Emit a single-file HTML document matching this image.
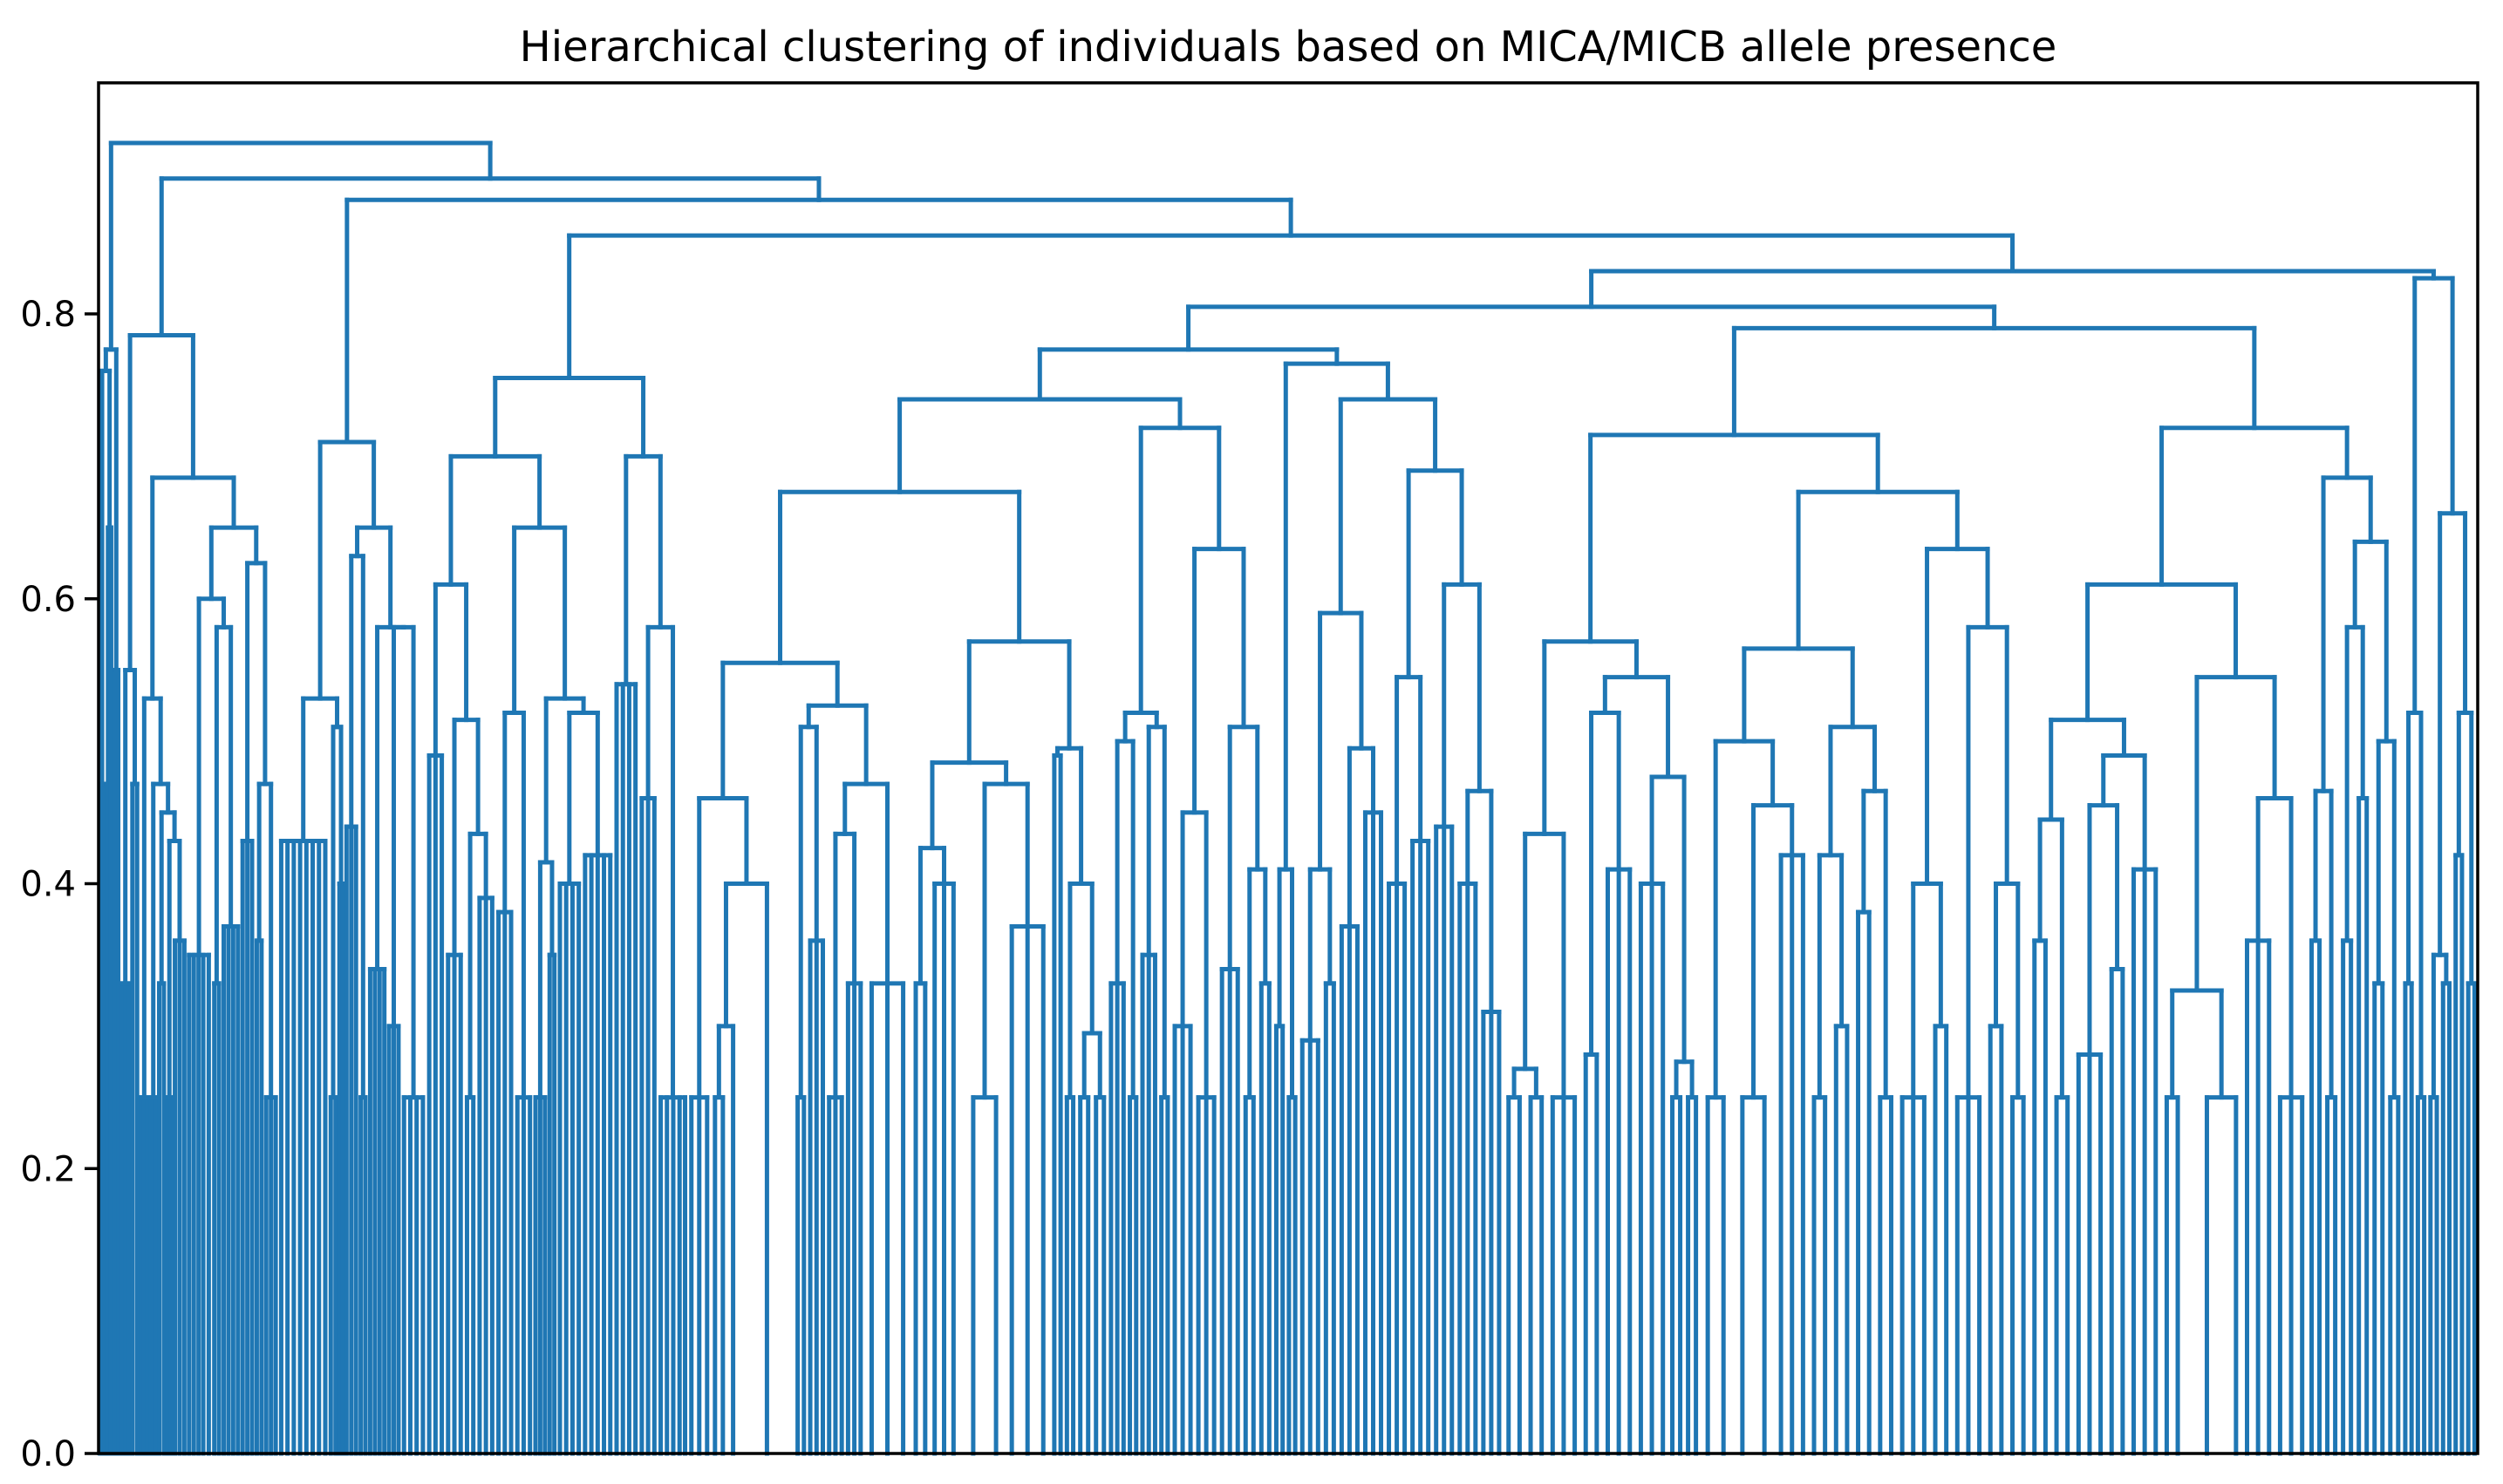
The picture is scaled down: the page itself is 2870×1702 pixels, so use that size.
<!DOCTYPE html>
<html><head><meta charset="utf-8">
<style>
html,body{margin:0;padding:0;background:#fff;}
svg{display:block;}
text{font-family:"DejaVu Sans","Liberation Sans",sans-serif;fill:#000;}
</style></head>
<body>
<svg id="chart" width="2870" height="1702" viewBox="0 0 2870 1702" xmlns="http://www.w3.org/2000/svg">
<rect width="2870" height="1702" fill="#fff"/>
<text x="1477" y="70" font-size="48" text-anchor="middle">Hierarchical clustering of individuals based on MICA/MICB allele presence</text>
<g id="links" fill="none" stroke="#1f77b4" stroke-width="5" stroke-linecap="square"></g>
<g id="axes"></g>
</svg>
<script>
// Tree data: leaf = weight (identical individuals merged at 0), node = [height, left, right], group = {h, w:[leaf weights]}
const yTicks = [0.0, 0.2, 0.4, 0.6, 0.8];
const yTickLabels = ["0.0", "0.2", "0.4", "0.6", "0.8"];

const A = [0.775,[0.76,{h:0.47,w:[2,3]},[0.65,2,2]],[0.55,2,3]];
const B1 = [0.55,{h:0.33,w:[2,2,2]},{h:0.47,w:[3,3]}];
const B3 = [0.53,{h:0.25,w:[2,2,2]},[0.47,{h:0.25,w:[3,2]},[0.45,{h:0.33,w:[3,3]},[0.43,{h:0.25,w:[2,2]},{h:0.36,w:[3,3,3]}]]]];
const B5 = [0.60,{h:0.35,w:[3,3,3,3,4]},[0.58,{h:0.33,w:[3,3]},{h:0.37,w:[3,3,3,3]}]];
const B6 = [0.625,{h:0.43,w:[3,3,3]},[0.47,{h:0.36,w:[3,3]},{h:0.25,w:[3,3,3]}]];
const N2 = [0.785, B1, [0.685, B3, [0.65, B5, B6]]];
const C1 = [0.53,{h:0.43,w:[4,4,4,4,4,4,4,4]},[0.51,{h:0.25,w:[3,3]},{h:0.4,w:[2,2]}]];
const C2 = [0.65,[0.63,{h:0.44,w:[3,3,3]},{h:0.25,w:[3,3]}],[0.58,{h:0.34,w:[3,3,3,3]},[0.58,{h:0.30,w:[3,3,3]},{h:0.25,w:[4,4,4,4]}]]];
const N4 = [0.71, C1, C2];
const D11 = [0.61,{h:0.49,w:[4,4,4]},[0.515,{h:0.35,w:[4,4,4]},[0.435,{h:0.25,w:[4,4]},{h:0.39,w:[4,4,4]}]]];
const D12 = [0.65,[0.52,{h:0.38,w:[4,4,4]},{h:0.25,w:[4,4,4]}],[0.53,[0.415,{h:0.25,w:[3,3,3]},{h:0.35,w:[3,3]}],[0.52,{h:0.4,w:[4,4,4,4]},{h:0.42,w:[4,4,4,4,4]}]]];
const D2 = [0.70,{h:0.54,w:[4,4,4,4]},[0.58,{h:0.46,w:[4,4,4]},{h:0.25,w:[4,4,4,4,3]}]];
const N6 = [0.755, [0.70, D11, D12], D2];
const G1 = [0.555,[0.46,{h:0.25,w:[5,5,5]},[0.40,[0.30,{h:0.25,w:[5,5]},8],35]],[0.525,[0.51,{h:0.25,w:[4,4]},{h:0.36,w:[4,4,4]}],[0.47,[0.435,{h:0.25,w:[4,4,4]},{h:0.33,w:[4,4,4]}],{h:0.33,w:[10,10,10]}]]];
const G2 = [0.57,[0.485,[0.425,{h:0.33,w:[6,6]},{h:0.40,w:[6,6,6]}],[0.47,{h:0.25,w:[19,10]},{h:0.37,w:[10,10,10]}]],[0.495,{h:0.49,w:[4,4]},[0.40,{h:0.25,w:[4,4]},[0.295,{h:0.25,w:[5,5]},{h:0.25,w:[5,5]}]]]];
const H1 = [0.52,[0.50,{h:0.33,w:[4,4,4]},{h:0.25,w:[4,4]}],[0.51,{h:0.35,w:[4,4,4]},{h:0.25,w:[4,4]}]];
const H2 = [0.635,[0.45,{h:0.30,w:[5,5,5]},{h:0.25,w:[5,5,5]}],[0.51,{h:0.34,w:[5,5,5]},[0.41,{h:0.25,w:[5,5]},{h:0.33,w:[5,5]}]]];
const I1 = [0.41,{h:0.3,w:[4,4]},{h:0.25,w:[4,4]}];
const I21 = [0.59,[0.41,{h:0.29,w:[5,5,5]},{h:0.33,w:[5,5]}],[0.495,{h:0.37,w:[5,5,5]},{h:0.45,w:[5,5,5]}]];
const I22 = [0.69,[0.545,{h:0.40,w:[5,5,5]},{h:0.43,w:[5,5,5]}],[0.61,{h:0.44,w:[5,5,5]},[0.465,{h:0.40,w:[5,5,5]},{h:0.31,w:[5,5,5]}]]];
const E = [0.775,[0.74,[0.675,G1,G2],[0.72,H1,H2]],[0.765,I1,[0.74,I21,I22]]];
const J1 = [0.57,[0.435,[0.27,{h:0.25,w:[7,7]},{h:0.25,w:[7,7]}],{h:0.25,w:[7,7,7]}],[0.545,[0.52,{h:0.28,w:[7,7]},{h:0.41,w:[7,7,7]}],[0.475,{h:0.40,w:[7,7,7]},[0.275,{h:0.25,w:[5,5]},{h:0.25,w:[5,5]}]]]];
const J21 = [0.565,[0.50,{h:0.25,w:[10,10]},[0.455,{h:0.25,w:[14,14]},{h:0.42,w:[7,7,7]}]],[0.51,[0.42,{h:0.25,w:[7,7]},{h:0.30,w:[7,7]}],[0.465,{h:0.38,w:[7,7]},{h:0.25,w:[7,7]}]]];
const J22 = [0.635,[0.40,{h:0.25,w:[7,7,7]},{h:0.30,w:[7,7]}],[0.58,{h:0.25,w:[7,7,7]},[0.40,{h:0.30,w:[7,7]},{h:0.25,w:[7,7]}]]];
const K11 = [0.515,[0.445,{h:0.36,w:[7,7]},{h:0.25,w:[7,7]}],[0.49,[0.455,{h:0.28,w:[7,7,7]},{h:0.34,w:[7,7]}],{h:0.41,w:[7,7,7]}]];
const K12 = [0.545,[0.325,{h:0.25,w:[7,7]},{h:0.25,w:[30,7]}],[0.46,{h:0.36,w:[7,7,7]},{h:0.25,w:[7,7,7]}]];
const K2 = [0.685,[0.465,{h:0.36,w:[5,5]},{h:0.25,w:[5,5]}],[0.64,[0.58,{h:0.36,w:[5,5]},{h:0.46,w:[5,5]}],[0.50,{h:0.33,w:[5,5]},{h:0.25,w:[5,5]}]]];
const F = [0.79,[0.715,J1,[0.675,J21,J22]],[0.72,[0.61,K11,K12],K2]];
const N9 = [0.825,[0.52,{h:0.33,w:[4,4]},{h:0.25,w:[4,4]}],[0.66,[0.35,{h:0.25,w:[4,4]},{h:0.33,w:[4,4]}],[0.52,{h:0.42,w:[4,4]},{h:0.33,w:[4,4]}]]];
const ROOT = [0.92, A, [0.895, N2, [0.88, N4, [0.855, N6, [0.83, [0.805, E, F], N9]]]]];

const PL = 113, PR = 2841, PT = 95, PB = 1667, YMAX = 0.8, Y0PIX = 360;
const NS = "http://www.w3.org/2000/svg";
function yS(v){ return PB - v * (PB - Y0PIX) / YMAX; }

function weight(n){
  if (typeof n === "number") return n;
  if (Array.isArray(n)) return weight(n[1]) + weight(n[2]);
  return n.w.reduce((a,b)=>a+b,0);
}
const TOTAL = weight(ROOT);
function xS(u){ return PL + u * (PR - PL) / TOTAL; }

const gL = document.getElementById("links");
let cursor = 0;
function line(x1,y1,x2,y2){
  const l = document.createElementNS(NS,"line");
  l.setAttribute("x1",x1); l.setAttribute("y1",y1); l.setAttribute("x2",x2); l.setAttribute("y2",y2);
  
  
  gL.appendChild(l);
}
function layout(n){
  if (typeof n === "number"){ const x = cursor + n/2; cursor += n; return {x:x, h:0}; }
  if (Array.isArray(n)){
    const L = layout(n[1]), R = layout(n[2]), h = n[0];
    line(xS(L.x), yS(L.h), xS(L.x), yS(h));
    line(xS(R.x), yS(R.h), xS(R.x), yS(h));
    line(xS(L.x), yS(h), xS(R.x), yS(h));
    return {x:(L.x+R.x)/2, h:h};
  }
  const xs = n.w.map(w => { const x = cursor + w/2; cursor += w; return x; });
  if (xs.length === 1) return {x:xs[0], h:0};
  xs.forEach(x => line(xS(x), yS(0), xS(x), yS(n.h)));
  line(xS(xs[0]), yS(n.h), xS(xs[xs.length-1]), yS(n.h));
  return {x:(xs[0]+xs[xs.length-1])/2, h:n.h};
}
layout(ROOT);

const gA = document.getElementById("axes");
const frame = document.createElementNS(NS,"rect");
frame.setAttribute("x",PL); frame.setAttribute("y",PT); frame.setAttribute("width",PR-PL); frame.setAttribute("height",PB-PT);
frame.setAttribute("fill","none"); frame.setAttribute("stroke","#000"); frame.setAttribute("stroke-width","3.5");


gA.appendChild(frame);
yTicks.forEach((v,i)=>{
  const y = yS(v);
  const t = document.createElementNS(NS,"line");
  t.setAttribute("x1",PL-16); t.setAttribute("x2",PL); t.setAttribute("y1",y); t.setAttribute("y2",y);
  t.setAttribute("stroke","#000"); t.setAttribute("stroke-width","3.5");
  
  
  gA.appendChild(t);
  const tx = document.createElementNS(NS,"text");
  tx.setAttribute("x",PL-26); tx.setAttribute("y",y+14); tx.setAttribute("font-size","40"); tx.setAttribute("text-anchor","end");
  tx.textContent = yTickLabels[i];
  
  
  gA.appendChild(tx);
});
</script>
</body></html>
